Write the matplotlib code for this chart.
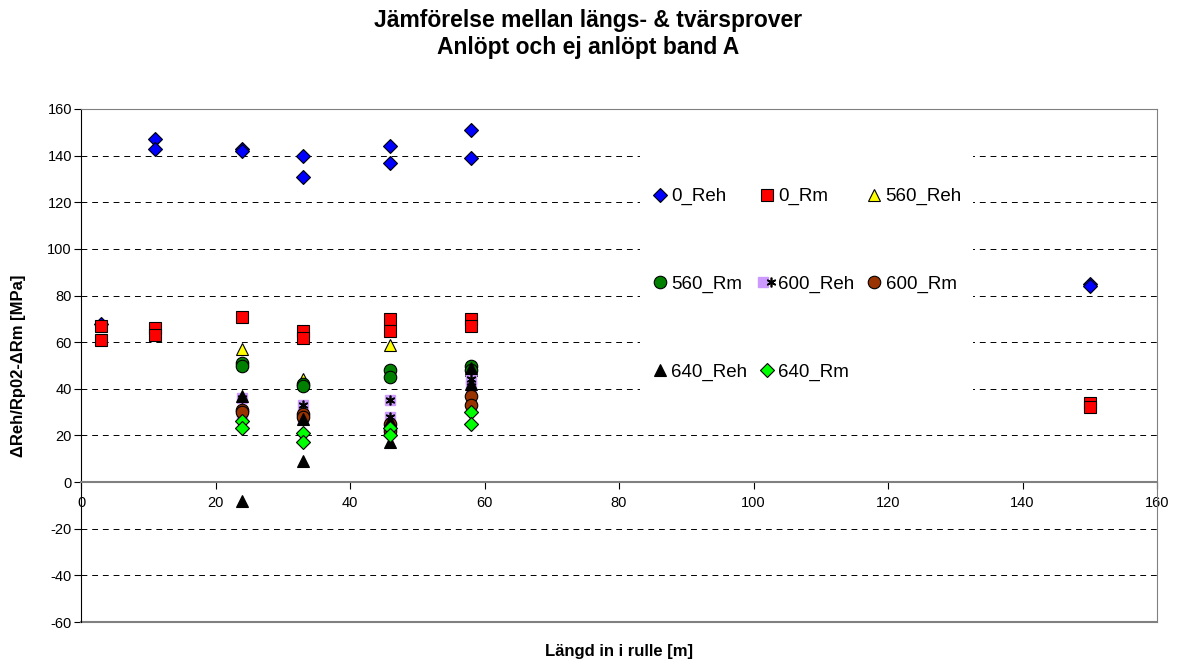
import matplotlib
matplotlib.use("Agg")
import matplotlib.pyplot as plt
from matplotlib.patches import Rectangle
from matplotlib.legend_handler import HandlerTuple

plt.rcParams['font.family'] = ['Liberation Sans', 'DejaVu Sans']
plt.rcParams['axes.unicode_minus'] = False

# data
x_0_reh = [3, 11, 11, 24, 24, 33, 33, 46, 46, 58, 58, 150, 150]
y_0_reh = [68, 147, 143, 143, 142, 140, 131, 144, 137, 151, 139, 85, 84]

x_0_rm = [3, 3, 11, 11, 24, 33, 33, 46, 46, 58, 58, 150, 150]
y_0_rm = [67, 61, 66, 63, 71, 65, 62, 70, 65, 70, 67, 34, 32]

x_560_reh = [24, 33, 46, 58]
y_560_reh = [57, 44, 59, 48]

x_560_rm = [24, 24, 33, 33, 46, 46, 58, 58]
y_560_rm = [51, 50, 42, 41, 48, 45, 50, 48]

x_600_reh = [24, 24, 33, 33, 46, 46, 58, 58]
y_600_reh = [36, 28, 33, 27, 35, 28, 44, 41]

x_600_rm = [24, 24, 33, 33, 46, 46, 58, 58]
y_600_rm = [31, 30, 29, 28, 25, 22, 37, 33]

x_640_reh = [24, 24, 33, 33, 46, 46, 58, 58]
y_640_reh = [37, -8, 27, 9, 26, 17, 49, 42]

x_640_rm = [24, 24, 33, 33, 46, 46, 58, 58]
y_640_rm = [26, 23, 21, 17, 23, 20, 30, 25]

fig = plt.figure(figsize=(11.77, 6.64), dpi=100)
ax = fig.add_axes([81/1177, 42/664, 1076/1177, 513/664])

mk = dict(linestyle='none', markeredgecolor='black', markeredgewidth=0.8)
h1, = ax.plot(x_0_reh, y_0_reh, marker='D', ms=7, mfc='#0000FF', **mk, zorder=3)
h2, = ax.plot(x_0_rm, y_0_rm, marker='s', ms=8.5, mfc='#FF0000', **mk, zorder=3)
h3, = ax.plot(x_560_reh, y_560_reh, marker='^', ms=9, mfc='#FFFF00', **mk, zorder=3)
h4, = ax.plot(x_560_rm, y_560_rm, marker='o', ms=9, mfc='#008000', **mk, zorder=3)
h5a, = ax.plot(x_600_reh, y_600_reh, marker='s', ms=7, mfc='#CC99FF', mec='#CC99FF',
               linestyle='none', zorder=3)
h5b, = ax.plot(x_600_reh, y_600_reh, marker=(6, 2, 0), ms=7, mec='black', mew=1.2,
               linestyle='none', zorder=3)
h6, = ax.plot(x_600_rm, y_600_rm, marker='o', ms=9, mfc='#993300', **mk, zorder=3)
h7, = ax.plot(x_640_reh, y_640_reh, marker='^', ms=9, mfc='black', **mk, zorder=3)
h8, = ax.plot(x_640_rm, y_640_rm, marker='D', ms=7, mfc='#00FF00', **mk, zorder=3)

ax.set_xlim(0, 160)
ax.set_ylim(-60, 160)
ax.set_xticks(range(0, 161, 20))
ax.set_yticks(range(-60, 161, 20))

ax.yaxis.grid(True, color='black', linestyle=(0, (6, 5)), linewidth=0.7)
ax.set_axisbelow(True)

ax.spines['bottom'].set_position(('data', 0))
ax.spines['bottom'].set_color('#808080')
ax.spines['bottom'].set_linewidth(1.5)
ax.spines['top'].set_color('#808080')
ax.spines['right'].set_color('#808080')
ax.spines['left'].set_color('black')
ax.axhline(-60, color='#808080', linewidth=1.5, clip_on=False)

ax.tick_params(axis='y', direction='out', length=5, labelsize=10.5, pad=1.5)
ax.tick_params(axis='x', direction='out', length=5, labelsize=10.5, pad=5)

ax.set_xlabel('Längd in i rulle [m]', fontsize=12, fontweight='bold')
ax.xaxis.set_label_coords(0.5, -0.042)
ax.set_ylabel('ΔReh/Rp02-ΔRm [MPa]', fontsize=12, fontweight='bold')
ax.yaxis.set_label_coords(-0.051, 0.5)

fig.suptitle('Jämförelse mellan längs- & tvärsprover\nAnlöpt och ej anlöpt band A',
             fontsize=16.5, fontweight='bold', y=0.986, va='top', linespacing=1.2)

# white area behind the legend
ax.add_patch(Rectangle((0.5195, 0.43), 0.3095, 0.49, transform=ax.transAxes,
                       facecolor='white', edgecolor='none', zorder=1.5))

# column-major order so the legend reads row by row
handles = [h1, h4, h7, h2, (h5a, h5b), h8, h3, h6]
labels = ['0_Reh', '560_Rm', '640_Reh', '0_Rm', '600_Reh', '640_Rm', '560_Reh', '600_Rm']
ax.legend(handles, labels, ncol=3, loc='center', bbox_to_anchor=(0.675, 0.658),
          frameon=False, fontsize=13.5, handlelength=0.8, handletextpad=0.2,
          columnspacing=0.65, labelspacing=3.75,
          handler_map={tuple: HandlerTuple(ndivide=None, pad=0)})

fig.savefig('out.png', dpi=100)
